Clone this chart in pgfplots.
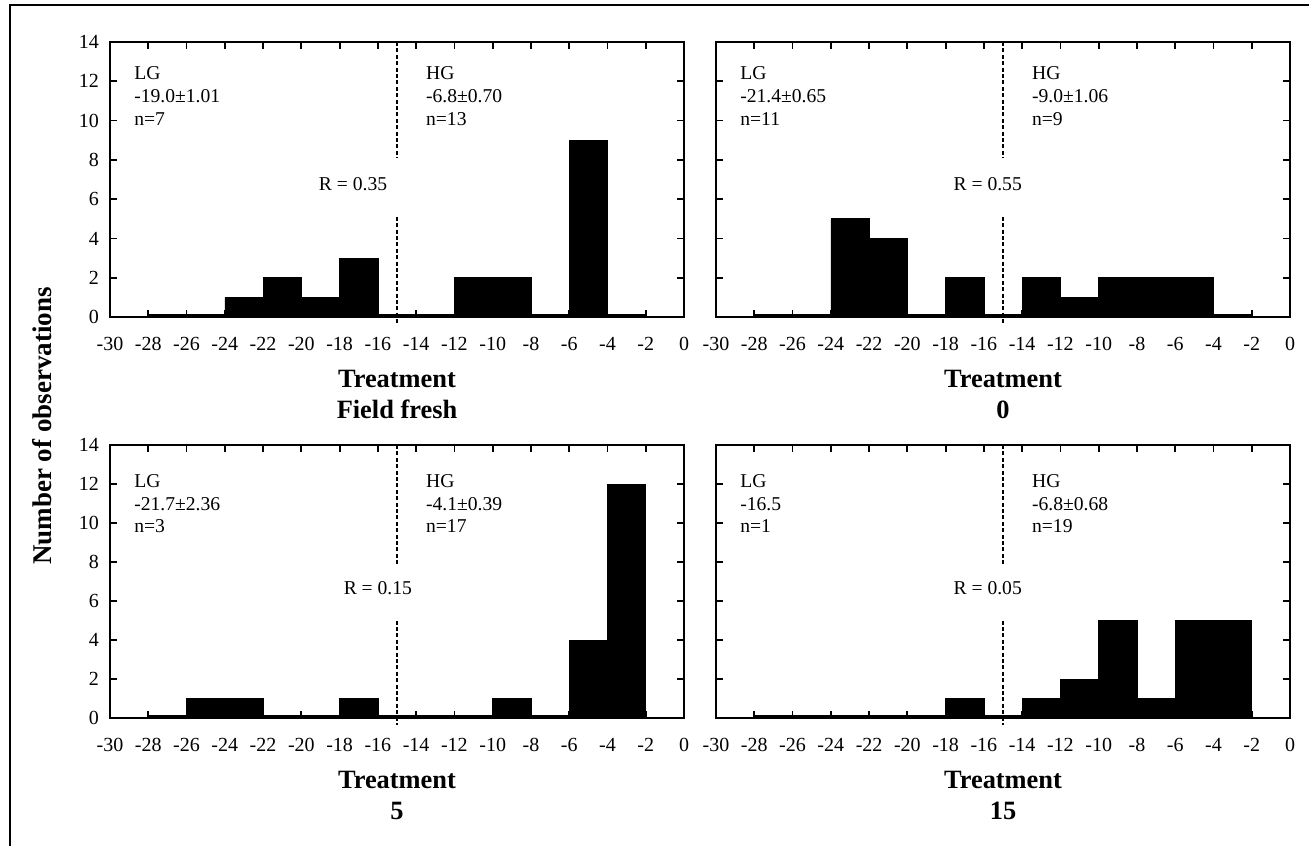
\documentclass[border=0pt]{standalone}
\usepackage{fontspec}
\setmainfont{Liberation Serif}
\usepackage{pgfplots}
\pgfplotsset{compat=1.18}
\pgfplotsset{
  hist/.style={
    scale only axis, width=287pt,
    xmin=-30, xmax=0, ymin=0, ymax=14,
    xtick={-30,-28,...,0}, ytick={0,2,...,14},
    tick align=inside, major tick length=3.5pt,
    axis line style={line width=1.1pt},
    every tick/.style={black, line width=0.9pt},
    ticklabel style={font=\fontsize{10}{10}\selectfont},
    /pgf/number format/assume math mode=true,
    xticklabel style={yshift=-6.5pt},
    yticklabel style={xshift=-2pt},
    clip=false,
    xlabel style={align=center, font=\bfseries\fontsize{13.2}{15.5}\selectfont, yshift=-3pt},
  },
  bars/.style={ybar interval, fill=black, draw=black, line width=0.3pt},
}
\tikzset{
  dl/.style={black, line width=1pt, dash pattern=on 2pt off 1.2pt},
  txt/.style={anchor=north west, align=left, inner sep=0pt, font=\fontsize{9.8}{11.3}\selectfont},
  rl/.style={inner sep=0pt, font=\fontsize{9.8}{11}\selectfont},
}
\begin{document}
\begin{tikzpicture}
\useasboundingbox (0,0) rectangle (654.5pt,423pt);
\draw[line width=0.7pt] (5pt,0pt) -- (5pt,420.5pt) -- (654.5pt,420.5pt);
\node[rotate=90, font=\bfseries\fontsize{13.5}{15}\selectfont] at (21pt,210pt) {Number of observations};

% Top-left: Field fresh
\begin{axis}[hist, height=137.5pt, at={(55pt,264.5pt)}, anchor=south west,
  xlabel={Treatment\\Field fresh}]
\addplot[bars] coordinates {(-28,0.15) (-26,0.15) (-24,1) (-22,2) (-20,1) (-18,3) (-16,0.15) (-14,0.15) (-12,2) (-10,2) (-8,0.15) (-6,9) (-4,0.15) (-2,0)};
\addplot[dl] coordinates {(-15,14) (-15,8.1)};
\addplot[dl] coordinates {(-15,5.1) (-15,-0.35)};
\node[rl] at (axis cs:-17.3,6.75) {R = 0.35};
\node[txt] at (axis cs:-28.75,12.75) {LG\\-19.0±1.01\\n=7};
\node[txt] at (axis cs:-13.5,12.75) {HG\\-6.8±0.70\\n=13};
\end{axis}

% Top-right: 0
\begin{axis}[hist, height=137.5pt, at={(358pt,264.5pt)}, anchor=south west,
  yticklabels={}, xlabel={Treatment\\0}]
\addplot[bars] coordinates {(-28,0.15) (-26,0.15) (-24,5) (-22,4) (-20,0.15) (-18,2) (-16,0.15) (-14,2) (-12,1) (-10,2) (-8,2) (-6,2) (-4,0.15) (-2,0)};
\addplot[dl] coordinates {(-15,14) (-15,8.1)};
\addplot[dl] coordinates {(-15,5.1) (-15,-0.35)};
\node[rl] at (axis cs:-15.8,6.75) {R = 0.55};
\node[txt] at (axis cs:-28.75,12.75) {LG\\-21.4±0.65\\n=11};
\node[txt] at (axis cs:-13.5,12.75) {HG\\-9.0±1.06\\n=9};
\end{axis}

% Bottom-left: 5
\begin{axis}[hist, height=136.5pt, at={(55pt,64pt)}, anchor=south west,
  xlabel={Treatment\\5}]
\addplot[bars] coordinates {(-28,0.15) (-26,1) (-24,1) (-22,0.15) (-20,0.15) (-18,1) (-16,0.15) (-14,0.15) (-12,0.15) (-10,1) (-8,0.15) (-6,4) (-4,12) (-2,0)};
\addplot[dl] coordinates {(-15,14) (-15,7.8)};
\addplot[dl] coordinates {(-15,5.0) (-15,-0.35)};
\node[rl] at (axis cs:-16.0,6.65) {R = 0.15};
\node[txt] at (axis cs:-28.75,12.5) {LG\\-21.7±2.36\\n=3};
\node[txt] at (axis cs:-13.5,12.5) {HG\\-4.1±0.39\\n=17};
\end{axis}

% Bottom-right: 15
\begin{axis}[hist, height=136.5pt, at={(358pt,64pt)}, anchor=south west,
  yticklabels={}, xlabel={Treatment\\15}]
\addplot[bars] coordinates {(-28,0.15) (-26,0.15) (-24,0.15) (-22,0.15) (-20,0.15) (-18,1) (-16,0.15) (-14,1) (-12,2) (-10,5) (-8,1) (-6,5) (-4,5) (-2,0)};
\addplot[dl] coordinates {(-15,14) (-15,7.8)};
\addplot[dl] coordinates {(-15,5.0) (-15,-0.35)};
\node[rl] at (axis cs:-15.8,6.65) {R = 0.05};
\node[txt] at (axis cs:-28.75,12.5) {LG\\-16.5\\n=1};
\node[txt] at (axis cs:-13.5,12.5) {HG\\-6.8±0.68\\n=19};
\end{axis}
\end{tikzpicture}
\end{document}
